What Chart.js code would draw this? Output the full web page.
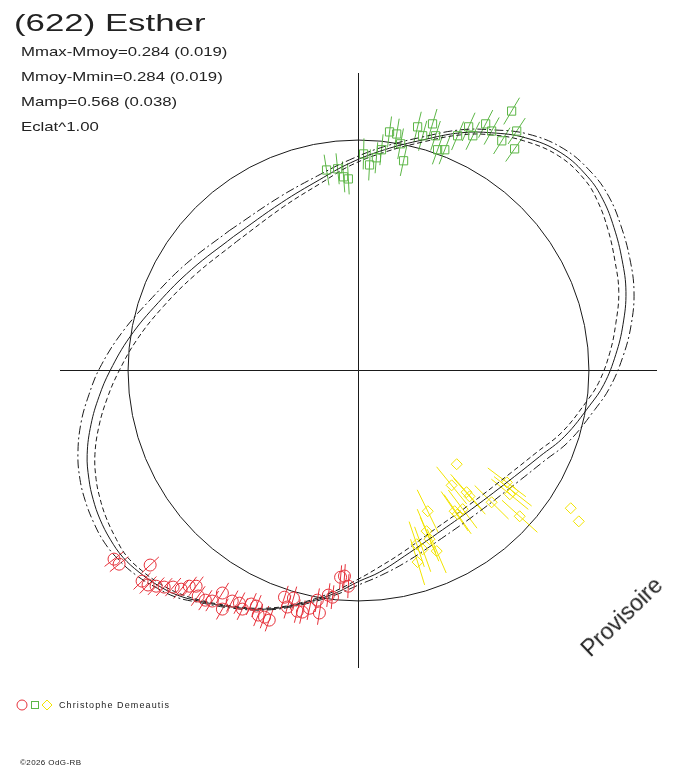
<!DOCTYPE html>
<html>
<head>
<meta charset="utf-8">
<script src="https://cdn.jsdelivr.net/npm/chart.js@4.4.1/dist/chart.umd.min.js"></script>
<style>
  body { margin: 0; background: #fff; }
  #wrap { position: relative; width: 688px; height: 768px; font-family: "Liberation Sans", Arial, sans-serif; color: #222; }
  #wrap canvas { position: absolute; left: 0; top: 0; }
  .txt { position: absolute; white-space: nowrap; line-height: 1; transform-origin: 0 0; }
</style>
</head>
<body>
<div id="wrap">
  <canvas id="polarChart" width="688" height="768"></canvas>
</div>
<script>
// header texts
const titleText = "(622) Esther";
const statLines = ["Mmax-Mmoy=0.284 (0.019)", "Mmoy-Mmin=0.284 (0.019)", "Mamp=0.568 (0.038)", "Eclat^1.00"];
const observer = "Christophe Demeautis";
const footer = "\u00a92026 OdG-RB";
const stamp = "Provisoire";

// reference circle radius (plot units)
const refRadius = 0.772;

// observations, [x, y] in plot units (phase as angle, magnitude as radius)
const redPoints = [
  [-0.819,-0.634],[-0.802,-0.651],[-0.698,-0.654],[-0.725,-0.708],[-0.705,-0.721],[-0.678,-0.725],
  [-0.651,-0.728],[-0.621,-0.728],[-0.594,-0.735],[-0.567,-0.725],[-0.544,-0.725],[-0.537,-0.758],
  [-0.513,-0.772],[-0.490,-0.775],[-0.456,-0.748],[-0.456,-0.802],[-0.423,-0.775],[-0.399,-0.782],
  [-0.389,-0.802],[-0.359,-0.785],[-0.342,-0.792],[-0.336,-0.822],[-0.315,-0.829],[-0.299,-0.839],
  [-0.248,-0.762],[-0.218,-0.765],[-0.238,-0.795],[-0.205,-0.809],[-0.188,-0.812],[-0.164,-0.799],
  [-0.138,-0.772],[-0.131,-0.815],[-0.101,-0.755],[-0.087,-0.762],[-0.060,-0.695],[-0.047,-0.691],
  [-0.034,-0.725]
];
const greenPoints = [
  [-0.107,0.674],[-0.070,0.678],[-0.050,0.651],[-0.034,0.644],[0.017,0.728],[0.037,0.691],
  [0.060,0.715],[0.077,0.742],[0.104,0.802],[0.128,0.795],[0.141,0.762],[0.151,0.705],
  [0.198,0.819],[0.215,0.789],[0.248,0.829],[0.258,0.789],[0.265,0.742],[0.289,0.742],
  [0.332,0.789],[0.369,0.819],[0.383,0.789],[0.426,0.829],[0.446,0.805],[0.480,0.772],
  [0.513,0.872],[0.530,0.805],[0.523,0.745]
];
const yellowPoints = [
  [0.329,-0.315],[0.312,-0.386],[0.362,-0.409],[0.372,-0.423],[0.322,-0.473],[0.349,-0.466],
  [0.332,-0.483],[0.232,-0.473],[0.446,-0.443],[0.497,-0.376],[0.507,-0.416],[0.517,-0.406],
  [0.540,-0.490],[0.195,-0.584],[0.215,-0.601],[0.262,-0.607],[0.198,-0.644],[0.238,-0.567],
  [0.228,-0.540],[0.711,-0.463],[0.738,-0.507]
];
// radial error half-length (plot units)
const redErr = 0.04;
const greenErr = 0.052;
const yellowErr = [
  0, 0.08, 0.08, 0.08, 0.08, 0.08, 0.08, 0.08, 0.08, 0.08, 0.08,
  0.08, 0.08, 0.08, 0.08, 0.08, 0.08, 0.08, 0.08, 0, 0
];

// fitted light curve and its two error envelopes, sampled round the loop
const fitCurve = [
  [-0.419,0.450],[-0.258,0.564],[-0.131,0.641],[-0.027,0.698],[0.087,0.742],[0.215,0.775],
  [0.342,0.799],[0.446,0.799],[0.560,0.782],[0.678,0.732],[0.768,0.651],[0.819,0.574],
  [0.856,0.480],[0.883,0.372],[0.896,0.265],[0.886,0.154],[0.862,0.054],[0.822,-0.047],
  [0.775,-0.117],[0.691,-0.221],[0.607,-0.289],[0.523,-0.356],[0.379,-0.466],[0.265,-0.547],
  [0.154,-0.624],[0.070,-0.678],[0.003,-0.708],[-0.087,-0.752],[-0.198,-0.785],[-0.309,-0.802],
  [-0.423,-0.795],[-0.534,-0.775],[-0.607,-0.755],[-0.674,-0.721],[-0.735,-0.678],[-0.789,-0.628],
  [-0.832,-0.567],[-0.866,-0.500],[-0.889,-0.433],[-0.903,-0.366],[-0.909,-0.282],[-0.896,-0.181],
  [-0.869,-0.087],[-0.832,0.000],[-0.765,0.114],[-0.671,0.228],[-0.560,0.339]
];
const fitUpper = [
  [-0.433,0.470],[-0.268,0.581],[-0.138,0.654],[-0.030,0.708],[0.084,0.752],[0.215,0.785],
  [0.342,0.809],[0.446,0.809],[0.567,0.795],[0.688,0.745],[0.782,0.664],[0.839,0.584],
  [0.879,0.487],[0.909,0.376],[0.923,0.265],[0.913,0.151],[0.886,0.047],[0.842,-0.057],
  [0.792,-0.131],[0.705,-0.238],[0.621,-0.305],[0.537,-0.372],[0.393,-0.483],[0.279,-0.564],
  [0.164,-0.641],[0.077,-0.688],[0.007,-0.718],[-0.087,-0.758],[-0.198,-0.789],[-0.309,-0.805],
  [-0.423,-0.799],[-0.537,-0.779],[-0.611,-0.762],[-0.681,-0.728],[-0.745,-0.688],[-0.802,-0.638],
  [-0.852,-0.577],[-0.889,-0.507],[-0.916,-0.436],[-0.933,-0.366],[-0.940,-0.282],[-0.930,-0.178],
  [-0.903,-0.081],[-0.866,0.010],[-0.792,0.128],[-0.691,0.245],[-0.577,0.359]
];
const fitLower = [
  [-0.409,0.433],[-0.252,0.550],[-0.124,0.631],[-0.023,0.691],[0.091,0.735],[0.215,0.768],
  [0.342,0.792],[0.446,0.792],[0.554,0.772],[0.671,0.721],[0.758,0.641],[0.802,0.567],
  [0.836,0.473],[0.859,0.369],[0.872,0.265],[0.862,0.158],[0.842,0.060],[0.805,-0.040],
  [0.762,-0.107],[0.681,-0.208],[0.597,-0.275],[0.513,-0.342],[0.369,-0.453],[0.255,-0.534],
  [0.148,-0.611],[0.064,-0.664],[0.000,-0.701],[-0.087,-0.745],[-0.198,-0.782],[-0.309,-0.799],
  [-0.423,-0.792],[-0.530,-0.772],[-0.604,-0.748],[-0.668,-0.715],[-0.728,-0.671],[-0.779,-0.621],
  [-0.815,-0.560],[-0.846,-0.493],[-0.866,-0.430],[-0.879,-0.366],[-0.883,-0.282],[-0.869,-0.185],
  [-0.842,-0.094],[-0.805,-0.007],[-0.742,0.104],[-0.654,0.215],[-0.547,0.322]
];

const RED = "#e6313a", GREEN = "#5cb646", YELLOW = "#f2e400", INK = "#1a1a1a";

const toXY = p => ({ x: p[0], y: p[1] });
const loop = arr => [...arr, arr[0]].map(toXY);

function pointSet(points, color, style, radius, err) {
    return {
        data: points.map(toXY),
        showLine: false,
        pointStyle: style,
        pointRadius: radius,
        pointBorderWidth: 1,
        borderColor: color,
        backgroundColor: "rgba(0,0,0,0)",
        errBar: err
    };
}

function curveSet(points, dash) {
    return {
        data: loop(points),
        showLine: true,
        tension: 0.4,
        borderColor: INK,
        borderWidth: 1,
        borderDash: dash,
        pointRadius: 0,
        fill: false
    };
}

// reference circle + radial error bars under the marks
const polarDecor = {
    id: "polarDecor",
    beforeDatasetsDraw(chart) {
        const { ctx, scales: { x, y } } = chart;
        const cx = x.getPixelForValue(0), cy = y.getPixelForValue(0);
        const unit = x.getPixelForValue(1) - cx;
        ctx.save();
        ctx.strokeStyle = INK;
        ctx.lineWidth = 1;
        ctx.beginPath();
        ctx.arc(cx, cy, refRadius * unit, 0, Math.PI * 2);
        ctx.stroke();
        chart.data.datasets.forEach((ds, i) => {
            if (ds.errBar === undefined) return;
            ctx.strokeStyle = ds.borderColor;
            ctx.beginPath();
            chart.getDatasetMeta(i).data.forEach((pt, j) => {
                const err = Array.isArray(ds.errBar) ? ds.errBar[j] : ds.errBar;
                if (!err) return;
                const half = err * unit;
                const dx = pt.x - cx, dy = pt.y - cy;
                const len = Math.hypot(dx, dy) || 1;
                const ux = dx / len * half, uy = dy / len * half;
                ctx.moveTo(pt.x - ux, pt.y - uy);
                ctx.lineTo(pt.x + ux, pt.y + uy);
            });
            ctx.stroke();
        });
        ctx.restore();
    },
    afterDraw(chart) {
        // observer key at the bottom left
        const ctx = chart.ctx;
        ctx.save();
        ctx.lineWidth = 1;
        ctx.strokeStyle = RED;
        ctx.beginPath();
        ctx.arc(22, 705, 5, 0, Math.PI * 2);
        ctx.stroke();
        ctx.strokeStyle = GREEN;
        ctx.strokeRect(31.5, 701.5, 7, 7);
        ctx.strokeStyle = YELLOW;
        ctx.beginPath();
        ctx.moveTo(47, 700); ctx.lineTo(52, 705); ctx.lineTo(47, 710); ctx.lineTo(42, 705);
        ctx.closePath();
        ctx.stroke();
        ctx.restore();
    }
};

const axisAtZero = {
    min: -1,
    max: 1,
    afterBuildTicks: s => { s.ticks = [{ value: 0 }]; },
    ticks: { display: false },
    grid: { color: INK, lineWidth: 1, drawTicks: false },
    border: { display: false }
};

new Chart(document.getElementById("polarChart"), {
    type: "scatter",
    data: {
        datasets: [
            pointSet(redPoints, RED, "circle", 6, redErr),
            pointSet(greenPoints, GREEN, "rect", 5.8, greenErr),
            pointSet(yellowPoints, YELLOW, "rectRot", 5.5, yellowErr),
            curveSet(fitCurve, []),
            curveSet(fitUpper, [9, 3, 2, 3]),
            curveSet(fitLower, [5, 3])
        ]
    },
    options: {
        responsive: false,
        devicePixelRatio: 1,
        animation: false,
        events: [],
        layout: { padding: { left: 60, right: 31, top: 73, bottom: 100 } },
        plugins: { legend: { display: false }, tooltip: { enabled: false } },
        scales: { x: axisAtZero, y: axisAtZero }
    },
    plugins: [polarDecor]
});

// texts (wide GDI-like lettering)
const wrap = document.getElementById("wrap");
function addText(text, left, top, size, stretch, extra) {
    const d = document.createElement("div");
    d.className = "txt";
    d.textContent = text;
    d.style.left = left + "px";
    d.style.top = top + "px";
    d.style.fontSize = size + "px";
    if (stretch) d.style.transform = "scaleX(" + stretch + ")";
    Object.assign(d.style, extra || {});
    wrap.appendChild(d);
    return d;
}
addText(titleText, 14, 11, 24, 1.45);
statLines.forEach((line, i) => addText(line, 21, 45 + i * 25, 13, 1.29));
addText(observer, 59, 701, 9, 0, { letterSpacing: "1.1px" });
addText(footer, 20, 759, 8, 0, { letterSpacing: "0.4px" });
addText(stamp, 622, 617, 23, 0, { transformOrigin: "50% 50%", transform: "translate(-50%,-50%) rotate(-44deg)" });
</script>
</body>
</html>
